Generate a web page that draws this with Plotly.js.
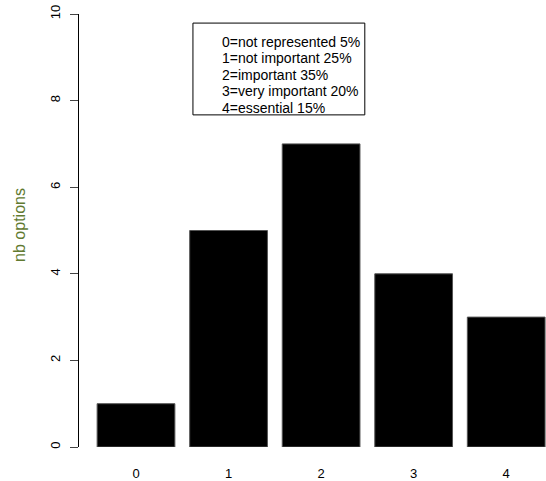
<!DOCTYPE html>
<html>
<head>
<meta charset="utf-8">
<script src="https://cdn.plot.ly/plotly-3.0.1.min.js"></script>
<style>html,body{margin:0;padding:0;background:#fff}#chart{width:546px;height:481px}</style>
</head>
<body>
<div id="chart"></div>
<script>
const categories = ["0", "1", "2", "3", "4"];
const counts = [1, 5, 7, 4, 3];
const legendLines = [
  "0=not represented 5%",
  "1=not important 25%",
  "2=important 35%",
  "3=very important 20%",
  "4=essential 15%"
];
const yTicks = [0, 2, 4, 6, 8, 10];
const yTitle = "nb options";

const xs = categories.map(function (c) { return Number(c); });

const trace = {
  type: "bar",
  x: xs,
  y: counts,
  marker: { color: "#000000", line: { color: "#555555", width: 1 } },
  hoverinfo: "skip"
};

// legend text lines, one annotation each (layout positions in paper units)
const legendTop = 0.936;      // centre of first line
const legendStep = 0.0383;    // line spacing
const legendAnnots = legendLines.map(function (t, i) {
  return {
    xref: "paper", yref: "paper",
    x: 0.302, y: legendTop - i * legendStep,
    xanchor: "left", yanchor: "middle",
    align: "left", showarrow: false,
    text: t,
    font: { size: 14, color: "#000" }
  };
});

const layout = {
  width: 546,
  height: 481,
  margin: { l: 79, r: 0, t: 14, b: 34 },
  paper_bgcolor: "#ffffff",
  plot_bgcolor: "#ffffff",
  showlegend: false,
  bargap: 0.16,
  font: { family: "Liberation Sans, Arial, sans-serif", size: 13, color: "#000" },
  xaxis: {
    range: [-0.616, 4.43],
    tickmode: "array",
    tickvals: xs,
    ticktext: categories,
    showgrid: false,
    zeroline: false,
    showline: false,
    ticks: "",
    ticklabelstandoff: 17,
    tickfont: { size: 13, color: "#000" }
  },
  yaxis: {
    range: [0, 10],
    tickmode: "array",
    tickvals: yTicks,
    ticktext: yTicks.map(String),
    tickangle: -90,
    showgrid: false,
    zeroline: false,
    showline: true,
    linecolor: "#000",
    linewidth: 1,
    ticks: "outside",
    ticklen: 8,
    tickcolor: "#444",
    ticklabelstandoff: 5,
    tickfont: { size: 13, color: "#000" }
  },
  shapes: [{
    type: "rect", xref: "paper", yref: "paper",
    x0: 0.244, x1: 0.612, y0: 0.767, y1: 0.979,
    line: { color: "#000", width: 1 }, fillcolor: "rgba(0,0,0,0)"
  }],
  annotations: legendAnnots.concat([{
    xref: "paper", yref: "paper",
    x: -0.1263, y: 0.513, xanchor: "center", yanchor: "middle",
    textangle: -90, showarrow: false,
    text: yTitle,
    font: { size: 16, color: "#617a30" }
  }])
};

Plotly.newPlot("chart", [trace], layout, { displayModeBar: false, staticPlot: true });
</script>
</body>
</html>
